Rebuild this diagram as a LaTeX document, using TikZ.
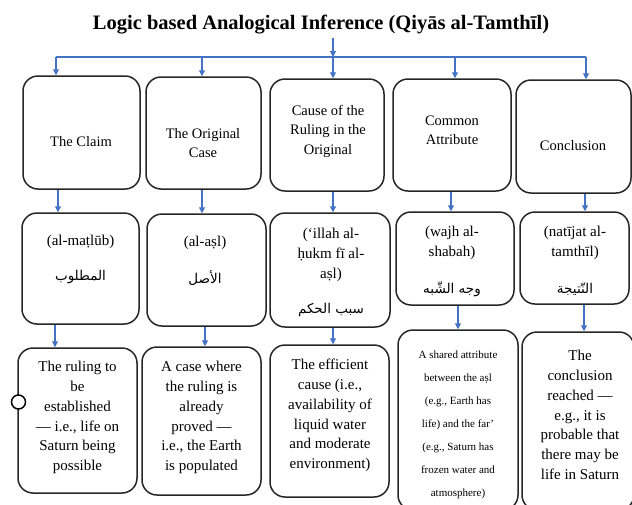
\documentclass[tikz,border=0pt]{standalone}
\usepackage{fontspec}
\setmainfont{Liberation Serif}
\newfontfamily\arabicfont[Script=Arabic]{DejaVu Sans}
\TeXXeTstate=1
\usetikzlibrary{arrows.meta}
\definecolor{linkblue}{HTML}{4472C4}
\tikzset{
  box/.style={draw=black!85, line width=1.5pt, rounded corners=15pt, inner sep=0pt},
  arr/.style={draw=linkblue, line width=1.1pt, -{Triangle[width=6pt,length=6pt]}},
  link/.style={draw=linkblue, line width=1.1pt},
  headtxt/.style={align=center, inner sep=0pt, font=\fontsize{14.5}{19.5}\selectfont},
  midtxt/.style={align=center, inner sep=0pt, font=\fontsize{15}{20}\selectfont},
  lowtxt/.style={align=center, inner sep=0pt, font=\fontsize{15}{19.8}\selectfont},
  smalltxt/.style={align=center, inner sep=0pt, font=\fontsize{11}{23}\selectfont},
  artxt/.style={inner sep=0pt, font=\arabicfont\fontsize{13.5}{15}\selectfont},
}
\begin{document}
\begin{tikzpicture}[x=1pt,y=-1pt]
\useasboundingbox (0,0) rectangle (632,504);

% title
\node[inner sep=0pt, font=\bfseries\fontsize{20.5}{24}\selectfont] (title) at (321,25) {Logic based Analogical Inference (Qiyās al-Tamthīl)};

% row 1
\node[box, minimum width=117pt, minimum height=113pt] (a1) at (81.5,132.5) {};
\node[box, minimum width=115pt, minimum height=112pt] (b1) at (203.5,133) {};
\node[box, minimum width=114pt, minimum height=112pt] (c1) at (327,135) {};
\node[box, minimum width=118pt, minimum height=112pt] (d1) at (452,135) {};
\node[box, minimum width=115pt, minimum height=113pt] (e1) at (573.5,136.5) {};

\node[headtxt] (ta1) at (81,142) {The Claim};
\node[headtxt] (tb1) at (203,143) {The Original\\Case};
\node[headtxt] (tc1) at (328,131) {Cause of the\\Ruling in the\\Original};
\node[headtxt] (td1) at (452,130.5) {Common\\Attribute};
\node[headtxt] (te1) at (573,146) {Conclusion};

% row 2
\node[box, minimum width=117pt, minimum height=111pt] (a2) at (80.5,268.5) {};
\node[box, minimum width=119pt, minimum height=112pt] (b2) at (206.5,270) {};
\node[box, minimum width=120pt, minimum height=114pt] (c2) at (330,270) {};
\node[box, minimum width=118pt, minimum height=93pt] (d2) at (455,258.5) {};
\node[box, minimum width=109pt, minimum height=92pt] (e2) at (574.5,258) {};

\node[midtxt] (ta2) at (80.5,242) {(al-maṭlūb)};
\node[artxt] (aa2) at (80.5,277) {\beginR المطلوب\endR};
\node[midtxt] (tb2) at (205,243) {(al-aṣl)};
\node[artxt] (ab2) at (205,278) {\beginR الأصل\endR};
\node[midtxt] (tc2) at (331,255) {(‘illah al-\\ḥukm fī al-\\aṣl)};
\node[artxt] (ac2) at (331,310) {\beginR سبب الحكم\endR};
\node[midtxt] (td2) at (452,243) {(wajh al-\\shabah)};
\node[artxt] (ad2) at (452,289) {\beginR وجه الشّبه\endR};
\node[midtxt] (te2) at (575,243) {(natījat al-\\tamthīl)};
\node[artxt] (ae2) at (575,289) {\beginR النّتيجة\endR};

% row 3
\node[box, minimum width=119pt, minimum height=145pt] (a3) at (77.5,420.5) {};
\node[box, minimum width=119pt, minimum height=148pt] (b3) at (201.5,421) {};
\node[box, minimum width=119pt, minimum height=152pt] (c3) at (329.5,421) {};
\node[box, minimum width=120pt, minimum height=180pt] (d3) at (458,420) {};
\node[box, minimum width=112pt, minimum height=178pt] (e3) at (578,421) {};

\node[lowtxt] (ta3) at (77.5,417.5) {The ruling to\\be\\established\\— i.e., life on\\Saturn being\\possible};
\node[lowtxt] (tb3) at (201.5,417.5) {A case where\\the ruling is\\already\\proved —\\i.e., the Earth\\is populated};
\node[lowtxt] (tc3) at (330,415.5) {The efficient\\cause (i.e.,\\availability of\\liquid water\\and moderate\\environment)};
\node[smalltxt] (td3) at (458,424.5) {A shared attribute\\between the aṣl\\(e.g., Earth has\\life) and the far’\\(e.g., Saturn has\\frozen water and\\atmosphere)};
\node[lowtxt] (te3) at (580,415) {The\\conclusion\\reached —\\e.g., it is\\probable that\\there may be\\life in Saturn};

% handle on the left of the first lower box
\node[circle, draw=black, line width=1.5pt, fill=white, minimum size=14pt, inner sep=0pt] (hd) at (18.5,402) {};

% top connectors
\coordinate (t0) at (333,57);
\coordinate (h1) at (56,57);
\coordinate (h2) at (202,57);
\coordinate (h4) at (455,57);
\coordinate (h5) at (586,57);
\draw[arr] (title.south -| t0) ++(0,3) -- (t0);
\draw[link] (h1) -- (h5);
\draw[arr] (h1) -- (h1 |- a1.north);
\draw[arr] (h2) -- (h2 |- b1.north);
\draw[arr] (t0) -- (t0 |- c1.north);
\draw[arr] (h4) -- (h4 |- d1.north);
\draw[arr] (h5) -- (h5 |- e1.north);

% row 1 -> row 2
\coordinate (v1) at (58,0);
\coordinate (v2) at (202,0);
\coordinate (v3) at (333,0);
\coordinate (v4) at (451,0);
\coordinate (v5) at (585,0);
\draw[arr] (a1.south -| v1) -- (a2.north -| v1);
\draw[arr] (b1.south -| v2) -- (b2.north -| v2);
\draw[arr] (c1.south -| v3) -- (c2.north -| v3);
\draw[arr] (d1.south -| v4) -- (d2.north -| v4);
\draw[arr] (e1.south -| v5) -- (e2.north -| v5);

% row 2 -> row 3
\coordinate (w1) at (55,0);
\coordinate (w2) at (205,0);
\coordinate (w3) at (333,0);
\coordinate (w4) at (458,0);
\coordinate (w5) at (584,0);
\draw[arr] (a2.south -| w1) -- (a3.north -| w1);
\draw[arr] (b2.south -| w2) -- (b3.north -| w2);
\draw[arr] (c2.south -| w3) -- (c3.north -| w3);
\draw[arr] (d2.south -| w4) -- (d3.north -| w4);
\draw[arr] (e2.south -| w5) -- (e3.north -| w5);
\end{tikzpicture}
\end{document}
